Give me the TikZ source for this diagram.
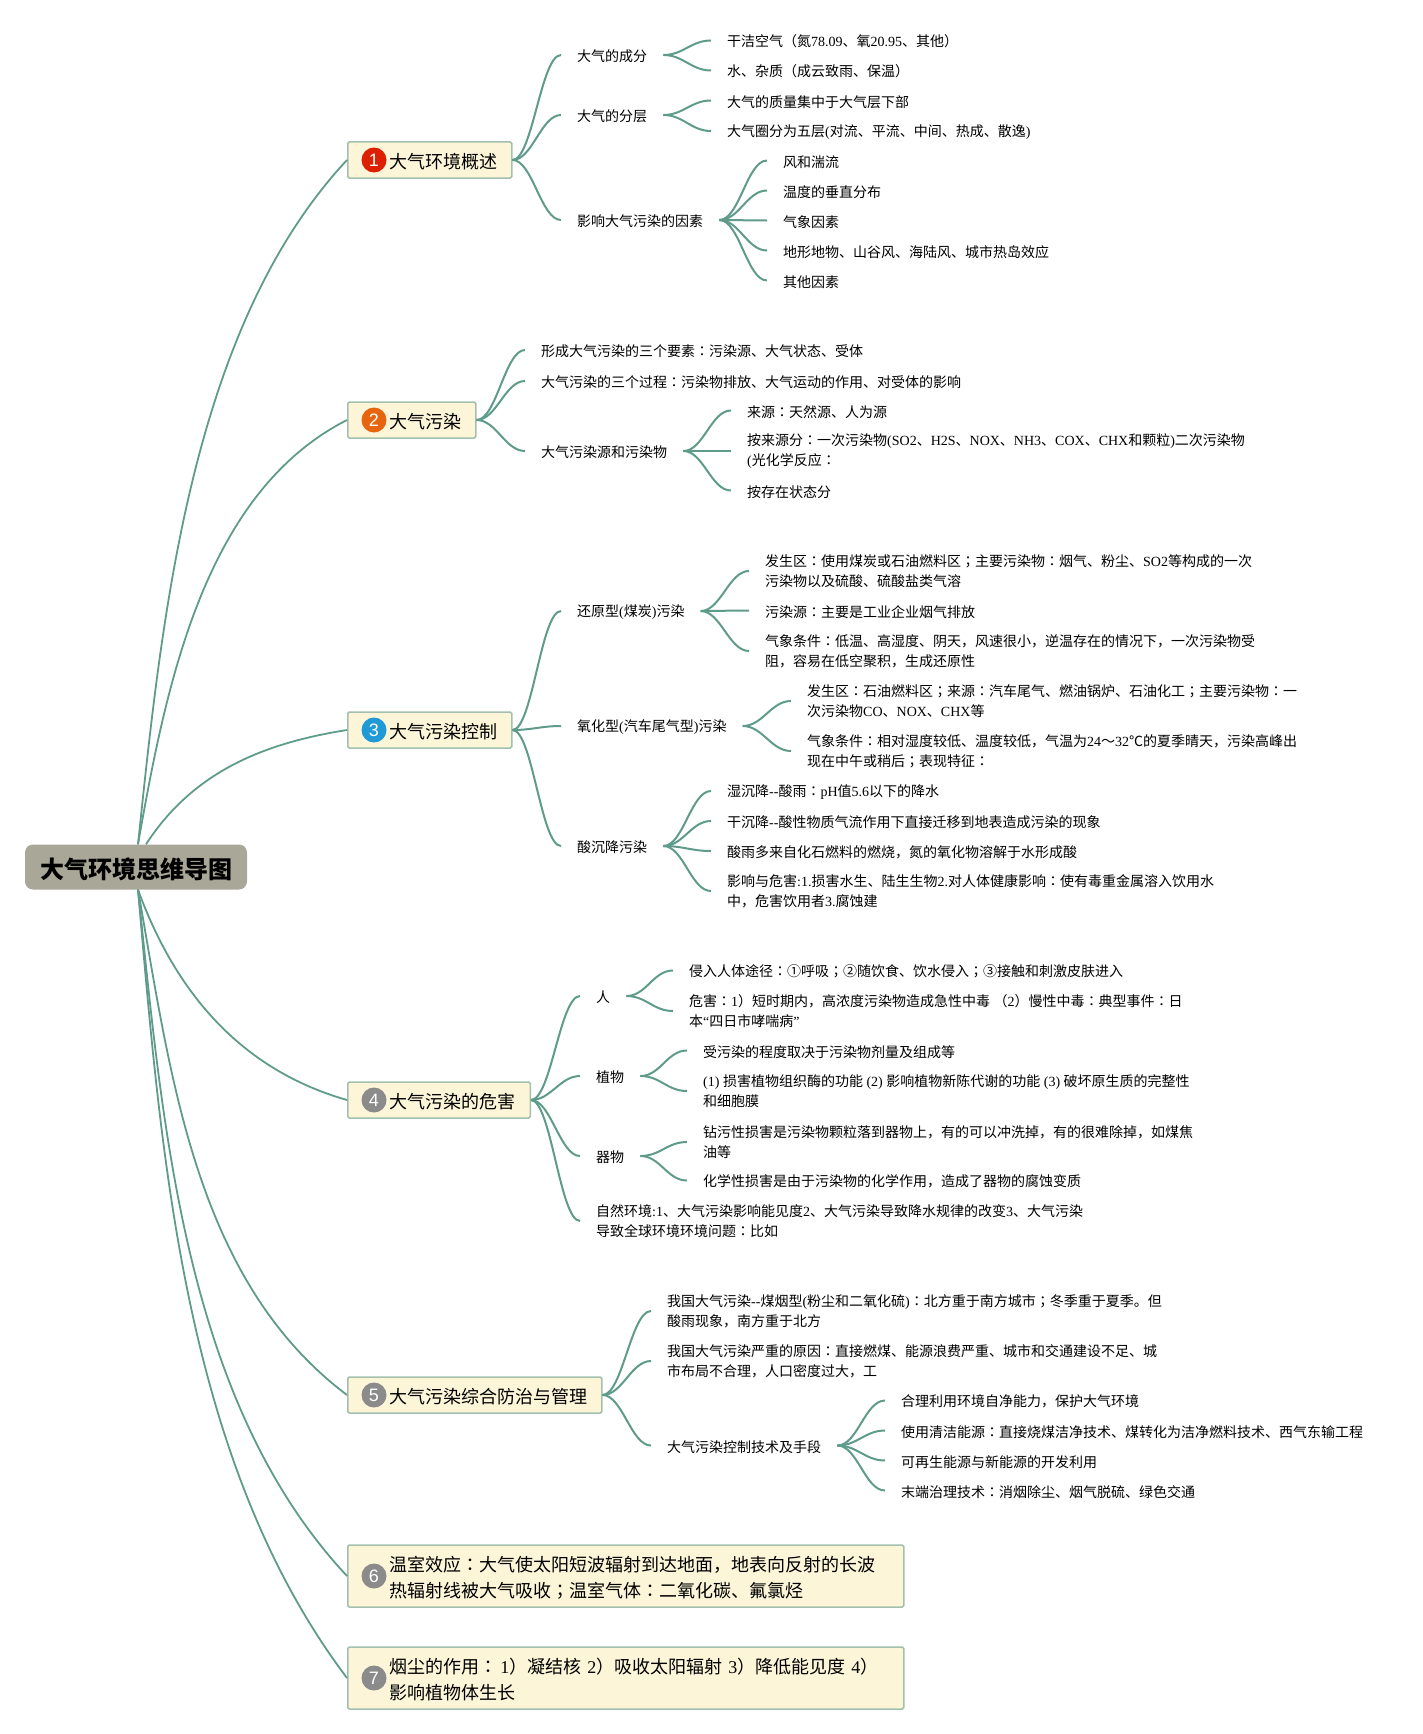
\documentclass[tikz,border=0pt]{standalone}
\usepackage{fontspec}
\setmainfont{Noto Sans CJK SC}
\newfontfamily\tcfont{Noto Sans CJK TC}
\newfontfamily\latfont{Liberation Serif}
\newfontfamily\numfont{Liberation Sans}
\newcommand{\lat}[1]{{\latfont #1}}
\newcommand{\cln}{{\tcfont ：}}
\newcommand{\smc}{{\tcfont ；}}
\newcommand{\pad}{\hspace*{27pt}}
\definecolor{linkgreen}{HTML}{5F9B8A}
\definecolor{topicfill}{HTML}{FDF5D8}
\definecolor{topicline}{HTML}{A3C0AE}
\definecolor{rootfill}{HTML}{A9A898}
\definecolor{numred}{HTML}{DD1F02}
\definecolor{numorange}{HTML}{E6660F}
\definecolor{numblue}{HTML}{1F9AD6}
\definecolor{numgray}{HTML}{8B8B8B}
\begin{document}
\begin{tikzpicture}[
  x=1pt, y=1pt,
  root/.style={fill=rootfill, rounded corners=8pt, minimum width=222pt, minimum height=45pt,
    inner sep=0pt, font=\fontsize{24}{28}\selectfont\bfseries,
    execute at begin node=\rule{0pt}{26pt}},
  topic/.style={draw=topicline, line width=1.5pt, fill=topicfill, rounded corners=1.5pt, anchor=west,
    align=left, inner xsep=15pt, inner ysep=2pt, font=\fontsize{18}{26}\selectfont,
    execute at begin node=\rule{0pt}{17.5pt}},
  leaf/.style={anchor=west, align=left, inner xsep=16pt, inner ysep=1pt, font=\fontsize{14}{20}\selectfont,
    execute at begin node=\rule{0pt}{14.3pt}},
  num/.style={circle, minimum size=25pt, inner sep=0pt, text=white, font=\fontsize{18}{20}\numfont},
  trunk/.style={draw=linkgreen, line width=1.8pt},
  rel/.style={draw=linkgreen, line width=2pt,
    to path={.. controls +(20,0) and +(-20,0) .. (\tikztotarget)}}
]
\useasboundingbox (0,0) rectangle (1423,-1734);

\node[root] (root) at (136,-867) {大气环境思维导图};
\coordinate (rootup) at ([xshift=2pt]root.north);
\coordinate (rootdn) at ([xshift=2pt]root.south);

% topics
\node[topic, text width=134pt, minimum height=36pt] (gen) at (347,-160) {\pad 大气环境概述};
\node[topic, text width=98pt, minimum height=36pt] (src) at (347,-420) {\pad 大气污染};
\node[topic, text width=134pt, minimum height=36pt] (ctl) at (347,-730) {\pad 大气污染控制};
\node[topic, text width=152.5pt, minimum height=36pt] (harm) at (347,-1100) {\pad 大气污染的危害};
\node[topic, text width=224pt, minimum height=36pt] (mgmt) at (347,-1395) {\pad 大气污染综合防治与管理};
\node[topic, text width=526pt, minimum height=62pt, execute at begin node=\rule{0pt}{19.5pt}] (gh) at (347,-1576)
  {\pad 温室效应\cln 大气使太阳短波辐射到达地面，地表向反射的长波\\
   \pad 热辐射线被大气吸收\smc 温室气体\cln 二氧化碳、氟氯烃};
\node[topic, text width=526pt, minimum height=62pt] (dust) at (347,-1678)
  {\pad 烟尘的作用\cln\hspace{2.5pt}\lat{1}）凝结核\lat{ 2}）吸收太阳辐射\lat{ 3}）降低能见度\lat{ 4}）\\
   \pad 影响植物体生长};

\node[num, fill=numred] (numgen) at (374,-160) {1};
\node[num, fill=numorange] (numsrc) at (374,-420) {2};
\node[num, fill=numblue] (numctl) at (374,-730) {3};
\node[num, fill=numgray] (numharm) at (374,-1100) {4};
\node[num, fill=numgray] (nummgmt) at (374,-1395) {5};
\node[num, fill=numgray] (numgh) at (374,-1576) {6};
\node[num, fill=numgray] (numdust) at (374,-1678) {7};

% 1
\node[leaf] (comp) at (561,-55) {大气的成分};
\node[leaf] (layer) at (561,-115) {大气的分层};
\node[leaf] (fact) at (561,-220) {影响大气污染的因素};
\node[leaf] (comp1) at (711,-40.5) {干洁空气（氮\lat{78.09}、氧\lat{20.95}、其他）};
\node[leaf] (comp2) at (711,-70.5) {水、杂质（成云致雨、保温）};
\node[leaf] (layer1) at (711,-100.5) {大气的质量集中于大气层下部};
\node[leaf] (layer2) at (711,-131) {大气圈分为五层\lat{(}对流、平流、中间、热成、散逸\lat{)}};
\node[leaf] (fact1) at (767,-160.5) {风和湍流};
\node[leaf] (fact2) at (767,-190.5) {温度的垂直分布};
\node[leaf] (fact3) at (767,-220.5) {气象因素};
\node[leaf] (fact4) at (767,-250.5) {地形地物、山谷风、海陆风、城市热岛效应};
\node[leaf] (fact5) at (767,-280.5) {其他因素};

% 2
\node[leaf] (elem) at (525,-350) {形成大气污染的三个要素\cln 污染源、大气状态、受体};
\node[leaf] (proc) at (525,-381) {大气污染的三个过程\cln 污染物排放、大气运动的作用、对受体的影响};
\node[leaf] (orig) at (525,-451) {大气污染源和污染物};
\node[leaf] (orig1) at (731,-410.5) {来源\cln 天然源、人为源};
\node[leaf] (orig2) at (731,-451)
  {按来源分\cln 一次污染物\lat{(SO2}、\lat{H2S}、\lat{NOX}、\lat{NH3}、\lat{COX}、\lat{CHX}和颗粒\lat{)}二次污染物\\
   \lat{(}光化学反应\cln};
\node[leaf] (orig3) at (731,-490.5) {按存在状态分};

% 3
\node[leaf] (coal) at (561,-611) {还原型\lat{(}煤炭\lat{)}污染};
\node[leaf] (oxid) at (561,-726) {氧化型\lat{(}汽车尾气型\lat{)}污染};
\node[leaf] (acid) at (561,-846) {酸沉降污染};
\node[leaf] (coal1) at (749,-571)
  {发生区\cln 使用煤炭或石油燃料区\smc 主要污染物\cln 烟气、粉尘、\lat{SO2}等构成的一次\\
   污染物以及硫酸、硫酸盐类气溶};
\node[leaf] (coal2) at (749,-610.5) {污染源\cln 主要是工业企业烟气排放};
\node[leaf] (coal3) at (749,-651)
  {气象条件\cln 低温、高湿度、阴天，风速很小，逆温存在的情况下，一次污染物受\\
   阻，容易在低空聚积，生成还原性};
\node[leaf] (oxid1) at (791,-701)
  {发生区\cln 石油燃料区\smc 来源\cln 汽车尾气、燃油锅炉、石油化工\smc 主要污染物\cln 一\\
   次污染物\lat{CO}、\lat{NOX}、\lat{CHX}等};
\node[leaf] (oxid2) at (791,-751)
  {气象条件\cln 相对湿度较低、温度较低，气温为\lat{24}～\lat{32}℃的夏季晴天，污染高峰出\\
   现在中午或稍后\smc 表现特征\cln};
\node[leaf] (acid1) at (711,-791) {湿沉降\lat{--}酸雨\cln\lat{pH}值\lat{5.6}以下的降水};
\node[leaf] (acid2) at (711,-821) {干沉降\lat{--}酸性物质气流作用下直接迁移到地表造成污染的现象};
\node[leaf] (acid3) at (711,-851) {酸雨多来自化石燃料的燃烧，氮的氧化物溶解于水形成酸};
\node[leaf] (acid4) at (711,-891)
  {影响与危害\lat{:1.}损害水生、陆生生物\lat{2.}对人体健康影响\cln 使有毒重金属溶入饮用水\\
   中，危害饮用者\lat{3.}腐蚀建};

% 4
\node[leaf] (man) at (580,-996) {人};
\node[leaf] (plant) at (580,-1076) {植物};
\node[leaf] (ware) at (580,-1156) {器物};
\node[leaf] (env) at (580,-1221)
  {自然环境\lat{:1}、大气污染影响能见度\lat{2}、大气污染导致降水规律的改变\lat{3}、大气污染\\
   导致全球环境环境问题\cln 比如};
\node[leaf] (man1) at (673,-970.5) {侵入人体途径\cln ①呼吸\smc ②随饮食、饮水侵入\smc ③接触和刺激皮肤进入};
\node[leaf] (man2) at (673,-1011)
  {危害\cln\lat{1}）短时期内，高浓度污染物造成急性中毒\lat{ }（\lat{2}）慢性中毒\cln 典型事件\cln 日\\
   本\lat{“}四日市哮喘病\lat{”}};
\node[leaf] (plant1) at (687,-1050.5) {受污染的程度取决于污染物剂量及组成等};
\node[leaf] (plant2) at (687,-1091)
  {\lat{(1) }损害植物组织酶的功能\lat{ (2) }影响植物新陈代谢的功能\lat{ (3) }破坏原生质的完整性\\
   和细胞膜};
\node[leaf] (ware1) at (687,-1142)
  {钻污性损害是污染物颗粒落到器物上，有的可以冲洗掉，有的很难除掉，如煤焦\\
   油等};
\node[leaf] (ware2) at (687,-1180.5) {化学性损害是由于污染物的化学作用，造成了器物的腐蚀变质};

% 5
\node[leaf] (type) at (651,-1311)
  {我国大气污染\lat{--}煤烟型\lat{(}粉尘和二氧化硫\lat{)}\cln 北方重于南方城市\smc 冬季重于夏季。但\\
   酸雨现象，南方重于北方};
\node[leaf] (why) at (651,-1361)
  {我国大气污染严重的原因\cln 直接燃煤、能源浪费严重、城市和交通建设不足、城\\
   市布局不合理，人口密度过大，工};
\node[leaf] (tech) at (651,-1445.5) {大气污染控制技术及手段};
\node[leaf] (tech1) at (885,-1400.5) {合理利用环境自净能力，保护大气环境};
\node[leaf] (tech2) at (885,-1430.5) {使用清洁能源\cln 直接烧煤洁净技术、煤转化为洁净燃料技术、西气东输工程};
\node[leaf] (tech3) at (885,-1460.5) {可再生能源与新能源的开发利用};
\node[leaf] (tech4) at (885,-1490.5) {末端治理技术\cln 消烟除尘、烟气脱硫、绿色交通};

% trunk
\draw[trunk] (rootup) to[out=84, in=227, looseness=.82] (gen.west);
\draw[trunk] (rootup) to[out=80, in=207, looseness=.87] (src.west);
\draw[trunk] ([xshift=10pt]root.north) to[out=57, in=189, looseness=.95] (ctl.west);
\draw[trunk] (rootdn) to[out=-70, in=164, looseness=.95] (harm.west);
\draw[trunk] (rootdn) to[out=-80, in=143, looseness=.89] (mgmt.west);
\draw[trunk] (rootdn) to[out=-84, in=133, looseness=.85] (gh.west);
\draw[trunk] (rootdn) to[out=-85, in=127, looseness=.85] (dust.west);

% branches
\draw[rel] (gen.east) to (comp.west);
\draw[rel] (gen.east) to (layer.west);
\draw[rel] (gen.east) to (fact.west);
\draw[rel] (comp.east) to (comp1.west);
\draw[rel] (comp.east) to (comp2.west);
\draw[rel] (layer.east) to (layer1.west);
\draw[rel] (layer.east) to (layer2.west);
\draw[rel] (fact.east) to (fact1.west);
\draw[rel] (fact.east) to (fact2.west);
\draw[rel] (fact.east) to (fact3.west);
\draw[rel] (fact.east) to (fact4.west);
\draw[rel] (fact.east) to (fact5.west);

\draw[rel] (src.east) to (elem.west);
\draw[rel] (src.east) to (proc.west);
\draw[rel] (src.east) to (orig.west);
\draw[rel] (orig.east) to (orig1.west);
\draw[rel] (orig.east) to (orig2.west);
\draw[rel] (orig.east) to (orig3.west);

\draw[rel] (ctl.east) to (coal.west);
\draw[rel] (ctl.east) to (oxid.west);
\draw[rel] (ctl.east) to (acid.west);
\draw[rel] (coal.east) to (coal1.west);
\draw[rel] (coal.east) to (coal2.west);
\draw[rel] (coal.east) to (coal3.west);
\draw[rel] (oxid.east) to (oxid1.west);
\draw[rel] (oxid.east) to (oxid2.west);
\draw[rel] (acid.east) to (acid1.west);
\draw[rel] (acid.east) to (acid2.west);
\draw[rel] (acid.east) to (acid3.west);
\draw[rel] (acid.east) to (acid4.west);

\draw[rel] (harm.east) to (man.west);
\draw[rel] (harm.east) to (plant.west);
\draw[rel] (harm.east) to (ware.west);
\draw[rel] (harm.east) to (env.west);
\draw[rel] (man.east) to (man1.west);
\draw[rel] (man.east) to (man2.west);
\draw[rel] (plant.east) to (plant1.west);
\draw[rel] (plant.east) to (plant2.west);
\draw[rel] (ware.east) to (ware1.west);
\draw[rel] (ware.east) to (ware2.west);

\draw[rel] (mgmt.east) to (type.west);
\draw[rel] (mgmt.east) to (why.west);
\draw[rel] (mgmt.east) to (tech.west);
\draw[rel] (tech.east) to (tech1.west);
\draw[rel] (tech.east) to (tech2.west);
\draw[rel] (tech.east) to (tech3.west);
\draw[rel] (tech.east) to (tech4.west);
\end{tikzpicture}
\end{document}
